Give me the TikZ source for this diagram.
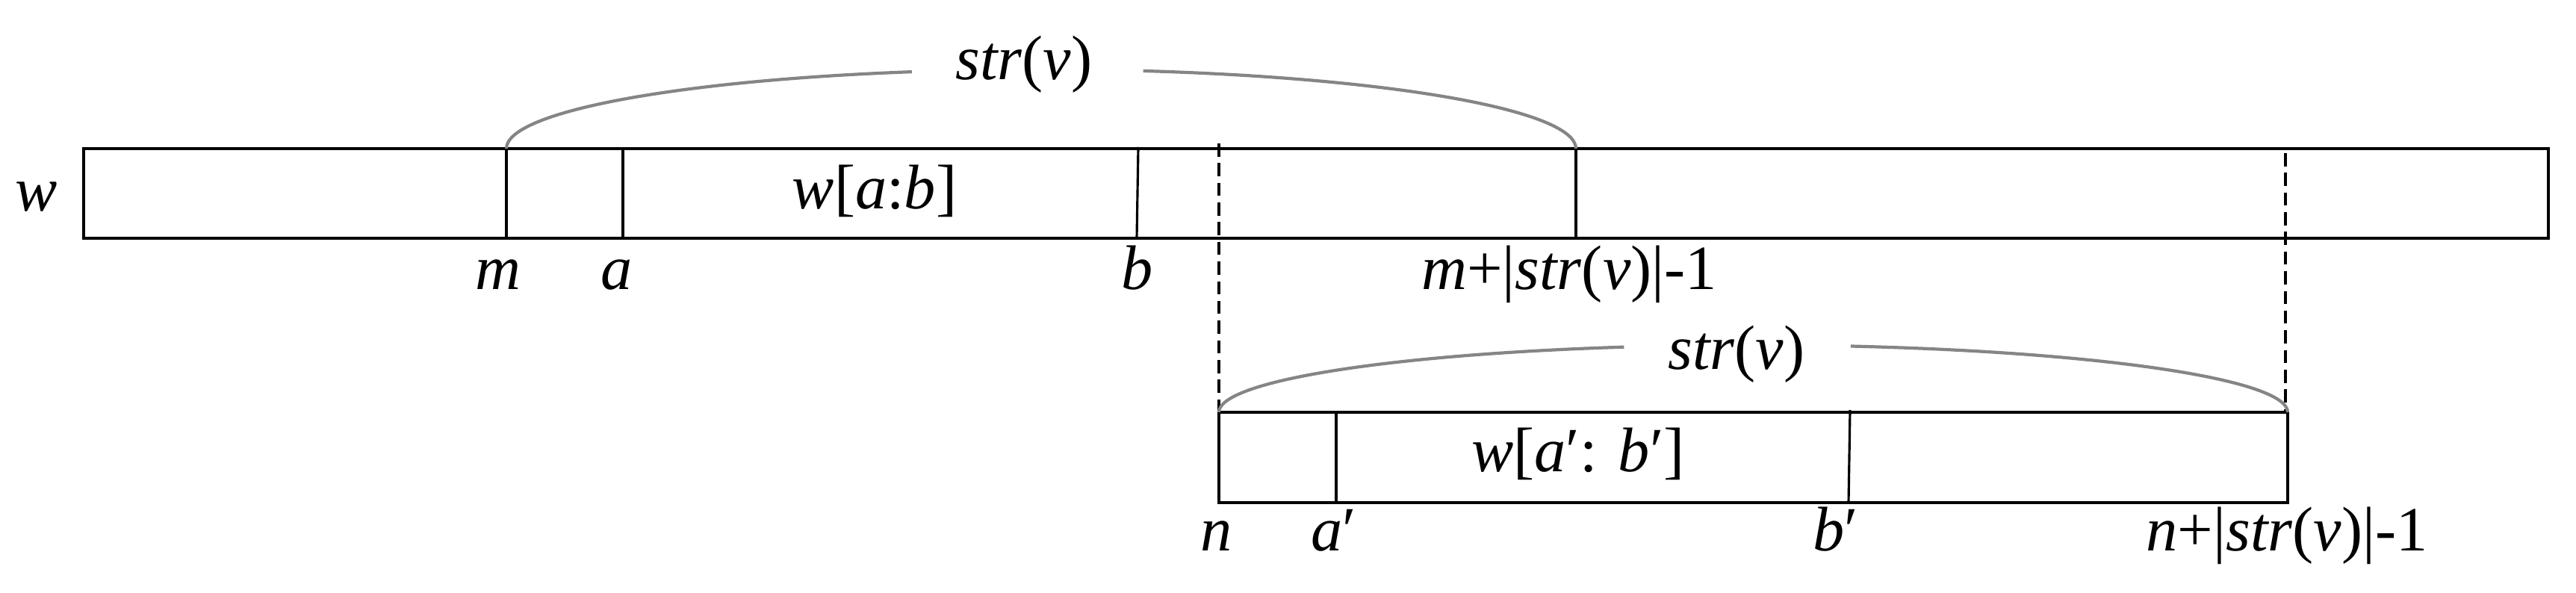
\documentclass[tikz,border=0pt]{standalone}
\usepackage{fontspec}
\setmainfont{Liberation Serif}[ItalicFont={Liberation Serif Italic}]
\usetikzlibrary{positioning,calc}
\tikzset{strip/.style={line width=1.3pt}}
\tikzset{cut/.style={line width=0.9pt}}
\tikzset{guide/.style={line width=0.9pt,dash pattern=on 5pt off 2.5pt}}
\tikzset{span/.style={line width=1.2pt,black!48}}
\tikzset{lbl/.style={anchor=base,inner sep=0pt,font=\fontsize{24}{28}\selectfont}}

\begin{document}
\begin{tikzpicture}
	\useasboundingbox (0,0) rectangle (34.49,7.94);

	%% Upper string w
	\coordinate (wsw) at (1.12,4.75);
	\coordinate (wne) at (34.12,5.95);
	\draw[strip] (wsw) rectangle (wne);
	\coordinate (mtop) at (6.78,5.95);   \coordinate (mbot) at (6.78,4.75);
	\coordinate (atop) at (8.34,5.93);   \coordinate (abot) at (8.34,4.77);
	\coordinate (btop) at (15.24,5.97);  \coordinate (bbot) at (15.22,4.75);
	\coordinate (etop) at (21.10,5.95);  \coordinate (ebot) at (21.10,4.75);
	\draw[cut] (mtop) -- (mbot);
	\draw[cut] (atop) -- (abot);
	\draw[cut] (btop) -- (bbot);
	\draw[strip] (etop) -- (ebot);
	%%

	%% Lower copy at n
	\coordinate (vsw) at (16.32,1.21);
	\coordinate (vne) at (30.63,2.42);
	\coordinate (ntop) at (16.32,2.42);
	\coordinate (ftop) at (30.63,2.42);
	\draw[strip] (vsw) rectangle (vne);
	\coordinate (a2top) at (17.89,2.41);  \coordinate (a2bot) at (17.89,1.21);
	\coordinate (b2top) at (24.77,2.45);  \coordinate (b2bot) at (24.75,1.21);
	\draw[cut] (a2top) -- (a2bot);
	\draw[cut] (b2top) -- (b2bot);

	%% guides from w down to the copy
	\coordinate (g1) at (16.32,6.02);
	\coordinate (g2) at (30.60,5.89);
	\draw[guide] (g1) -- (ntop);
	\draw[guide] (g2) -- (30.60,2.42);

	%% str(v) spans
	\draw[span] (mtop) arc[start angle=180,end angle=104,x radius=7.16,y radius=1.06];
	\draw[span] (etop) arc[start angle=0,end angle=79,x radius=7.16,y radius=1.06];
	\draw[span] (ntop) arc[start angle=180,end angle=104,x radius=7.155,y radius=0.90];
	\draw[span] (ftop) arc[start angle=0,end angle=79.5,x radius=7.155,y radius=0.90];

	%% labels
	\node[lbl] (lw) at (0.49,5.11) {\textit{w}};
	\node[lbl] (lab) at (11.71,5.14) {\textit{w}[\textit{a}:\textit{b}]};
	\node[lbl] (ls1) at (13.71,6.87) {\textit{str}(\textit{v})};
	\node[lbl] (lm) at (6.67,4.06) {\textit{m}};
	\node[lbl] (la) at (8.26,4.06) {\textit{a}};
	\node[lbl] (lb) at (15.23,4.06) {\textit{b}};
	\node[lbl] (le) at (21.01,4.06) {\textit{m}+|\textit{str}(\textit{v})|-1};

	\node[lbl] (ls2) at (23.25,2.99) {\textit{str}(\textit{v})};
	\node[lbl] (lab2) at (21.13,1.62) {\textit{w}[\textit{a}′: \textit{b}′]};
	\node[lbl] (ln) at (16.29,0.56) {\textit{n}};
	\node[lbl] (la2) at (17.86,0.56) {\textit{a}′};
	\node[lbl] (lb2) at (24.58,0.56) {\textit{b}′};
	\node[lbl] (lf) at (30.62,0.56) {\textit{n}+|\textit{str}(\textit{v})|-1};

\end{tikzpicture}
\end{document}
